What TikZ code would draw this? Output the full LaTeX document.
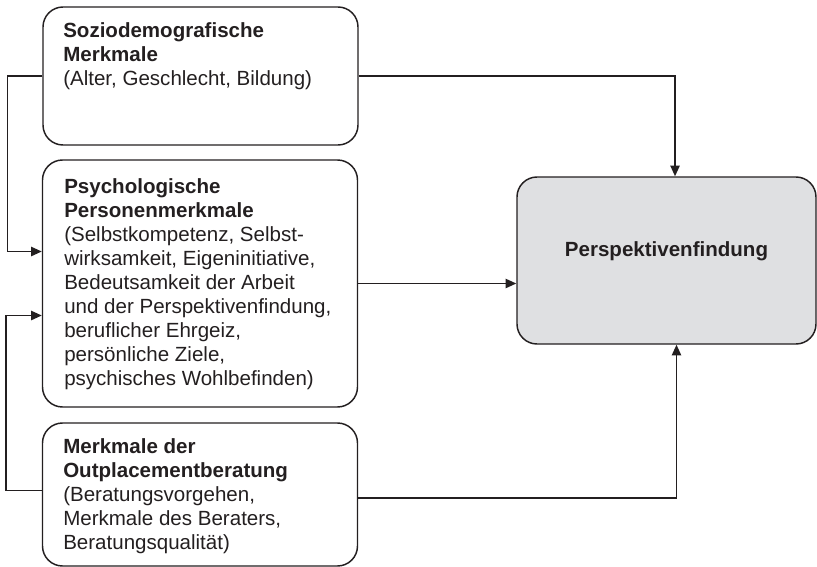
\documentclass[tikz,border=0pt]{standalone}
\usepackage{fontspec}
\setmainfont{Liberation Sans}
\usetikzlibrary{arrows.meta,positioning}
\definecolor{linegray}{HTML}{231F20}
\definecolor{boxgray}{HTML}{DFE0E2}
\begin{document}
\begin{tikzpicture}[x=0.75pt,y=-0.75pt,
    box/.style={draw=linegray,line width=1.1pt,rounded corners=15pt,minimum width=236.25pt,inner sep=0pt},
    txt/.style={align=left,inner sep=0pt,anchor=north west,font=\fontsize{15.4}{18}\selectfont,text=linegray},
    arr/.style={draw=linegray,line width=1.1pt,-{Triangle[length=8pt,width=7pt]}},
    con/.style={draw=linegray,line width=1.1pt}]
    \useasboundingbox (0,0) rectangle (817,567);
    % boxes
    \node[box,minimum height=103.5pt] (sozio) at (200.5,76) {};
    \node[box,minimum height=185.25pt] (psych) at (200,283.5) {};
    \node[box,minimum height=107.25pt] (berat) at (200,494.5) {};
    \node[box,fill=boxgray,minimum width=224.25pt,minimum height=125.25pt] (persp) at (666.5,260.5) {};
    % texts
    \node[txt] (soziotxt) at (63,22) {\textbf{Soziodemografische}\\\textbf{Merkmale}\\(Alter, Geschlecht, Bildung)};
    \node[txt] (psychtxt) at (64,178) {\textbf{Psychologische}\\\textbf{Personenmerkmale}\\(Selbstkompetenz, Selbst-\\wirksamkeit, Eigeninitiative,\\Bedeutsamkeit der Arbeit\\und der Perspektivenfindung,\\beruflicher Ehrgeiz,\\persönliche Ziele,\\psychisches Wohlbefinden)};
    \node[txt] (berattxt) at (63,438) {\textbf{Merkmale der}\\\textbf{Outplacementberatung}\\(Beratungsvorgehen,\\Merkmale des Beraters,\\Beratungsqualität)};
    \node[font=\fontsize{15.4}{18}\selectfont\bfseries,text=linegray,inner sep=0pt] (persptxt) at (666.5,251) {Perspektivenfindung};
    % connectors
    \draw[arr] (sozio.west) -- ++(-35,0) |- ([yshift=24pt]psych.west);
    \draw[arr] ([yshift=3pt]berat.west) -- ++(-36,0) |- ([yshift=-24pt]psych.west);
    \draw[arr] (sozio.east) -| ([xshift=6.4pt]persp.north);
    \draw[arr] (psych.east) -- (psych.east -| persp.west);
    \draw[arr] ([yshift=-2.5pt]berat.east) -| ([xshift=7.5pt]persp.south);
\end{tikzpicture}
\end{document}
